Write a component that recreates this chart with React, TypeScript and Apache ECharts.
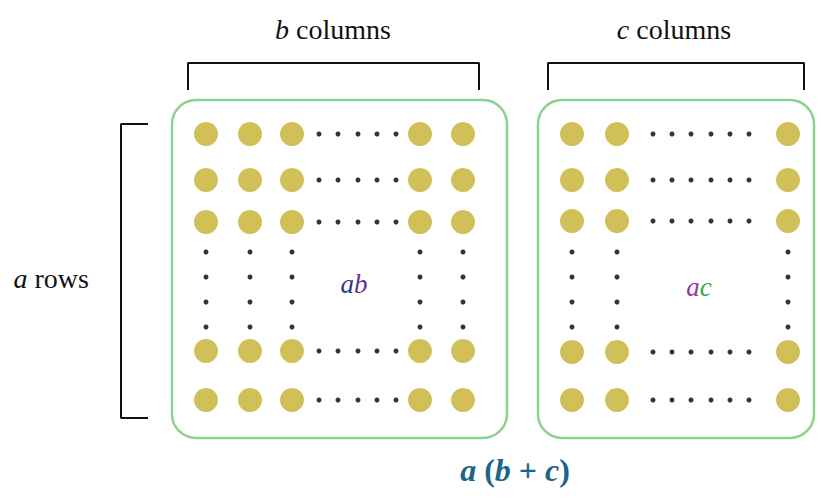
import React, { useEffect, useRef } from "react";
import * as echarts from "echarts";

// Diagram coordinates are in the 822 x 500 drawing space (value axes).
const leftCols = [206, 250, 292, 420, 463];
const leftRows = [134, 180, 222, 351, 400];
const leftRowDots = [319, 338, 358, 377, 396];
const rightCols = [572, 617, 788];
const rightRows = [134, 180, 221, 352, 400];
const rightRowDots = [653, 672, 691, 711, 730, 749];
const colDotRows = [252, 277, 302, 327];

const boxes = [
  [172, 100, 507, 438],
  [538, 100, 814, 438],
];
const bracketB = [[188, 90], [188, 63], [479, 63], [479, 90]];
const bracketC = [[548, 90], [548, 63], [804, 63], [804, 90]];
const bracketA = [[148, 124], [121, 124], [121, 418], [148, 418]];

function buildBig(cols: number[], rows: number[]) {
  const out: number[][] = [];
  rows.forEach((r) => cols.forEach((c) => out.push([c, r])));
  return out;
}
function buildSmall(cols: number[], rows: number[], rowDots: number[]) {
  const out: number[][] = [];
  rows.forEach((r) => rowDots.forEach((x) => out.push([x, r])));
  cols.forEach((c) => colDotRows.forEach((y) => out.push([c, y])));
  return out;
}

export default function App() {
  const ref = useRef<HTMLDivElement>(null);
  useEffect(() => {
    if (!ref.current) return;
    const chart = echarts.init(ref.current, null, { renderer: "svg" });
    const serif = "Liberation Serif";
    const bigDots = [...buildBig(leftCols, leftRows), ...buildBig(rightCols, rightRows)];
    const smallDots = [
      ...buildSmall(leftCols, leftRows, leftRowDots),
      ...buildSmall(rightCols, rightRows, rightRowDots),
    ];
    const bracketSeries = (d: number[][]) => ({
      type: "line",
      data: d,
      symbol: "none",
      lineStyle: { color: "#111", width: 2 },
      silent: true,
    });
    const plain = (size: number, fill: string): any => ({
      fontSize: size,
      fontFamily: serif,
      fill,
    });
    const ital = (size: number, fill: string, bold = false): any => {
      const s: any = { fontSize: size, fontFamily: serif, fontStyle: "italic", fill };
      if (bold) s.fontWeight = "bold";
      return s;
    };
    const NB = "\u00A0";
    chart.setOption({
      animation: false,
      backgroundColor: "#ffffff",
      grid: { left: 0, right: 0, top: 0, bottom: 0 },
      xAxis: { type: "value", min: 0, max: 822, show: false },
      yAxis: { type: "value", min: 0, max: 500, inverse: true, show: false },
      series: [
        {
          type: "custom",
          data: boxes,
          renderItem: (params: any, api: any) => {
            const p0 = api.coord([api.value(0), api.value(1)]);
            const p1 = api.coord([api.value(2), api.value(3)]);
            return {
              type: "rect",
              shape: { x: p0[0], y: p0[1], width: p1[0] - p0[0], height: p1[1] - p0[1], r: 24 },
              style: { fill: "none", stroke: "#8dd18d", lineWidth: 2.5 },
            };
          },
          silent: true,
        },
        bracketSeries(bracketB),
        bracketSeries(bracketC),
        bracketSeries(bracketA),
        {
          type: "scatter",
          data: bigDots,
          symbolSize: 24,
          itemStyle: { color: "#c6af2e" },
          silent: true,
        },
        {
          type: "scatter",
          data: smallDots,
          symbolSize: 5,
          itemStyle: { color: "#000" },
          silent: true,
        },
      ],
      graphic: [
        {
          type: "text",
          x: 333,
          y: 29,
          style: {
            text: "{i|b}{n|" + NB + "columns}",
            ...plain(28, "#111"),
            align: "center",
            verticalAlign: "middle",
            rich: { i: ital(28, "#111"), n: plain(28, "#111") },
          },
        },
        {
          type: "text",
          x: 674,
          y: 29,
          style: {
            text: "{i|c}{n|" + NB + "columns}",
            ...plain(28, "#111"),
            align: "center",
            verticalAlign: "middle",
            rich: { i: ital(28, "#111"), n: plain(28, "#111") },
          },
        },
        {
          type: "text",
          x: 89,
          y: 278,
          style: {
            text: "{i|a}{n|" + NB + "rows}",
            ...plain(28, "#111"),
            align: "right",
            verticalAlign: "middle",
            rich: { i: ital(28, "#111"), n: plain(28, "#111") },
          },
        },
        {
          type: "text",
          x: 354,
          y: 284,
          style: {
            text: "{a|a}{b|b}",
            ...plain(27, "#2d3a92"),
            align: "center",
            verticalAlign: "middle",
            rich: { a: ital(27, "#2d3a92"), b: ital(27, "#6a2f90") },
          },
        },
        {
          type: "text",
          x: 699,
          y: 287,
          style: {
            text: "{a|a}{c|c}",
            ...plain(27, "#933d9f"),
            align: "center",
            verticalAlign: "middle",
            rich: { a: ital(27, "#933d9f"), c: ital(27, "#3aab3a") },
          },
        },
        {
          type: "text",
          x: 515,
          y: 470,
          style: {
            text: "{i|a}{n|" + NB + "(}{i|b}{n|" + NB + "+" + NB + "}{i|c}{n|)}",
            ...plain(32, "#1b6687"),
            align: "center",
            verticalAlign: "middle",
            rich: {
              i: ital(32, "#1b6687", true),
              n: { ...plain(32, "#1b6687"), fontWeight: "bold" },
            },
          },
        },
      ],
    });
    return () => chart.dispose();
  }, []);
  return (
    <div
      ref={ref}
      style={{ position: "absolute", left: 0, top: 0, width: 822, height: 500, background: "#fff" }}
    />
  );
}
